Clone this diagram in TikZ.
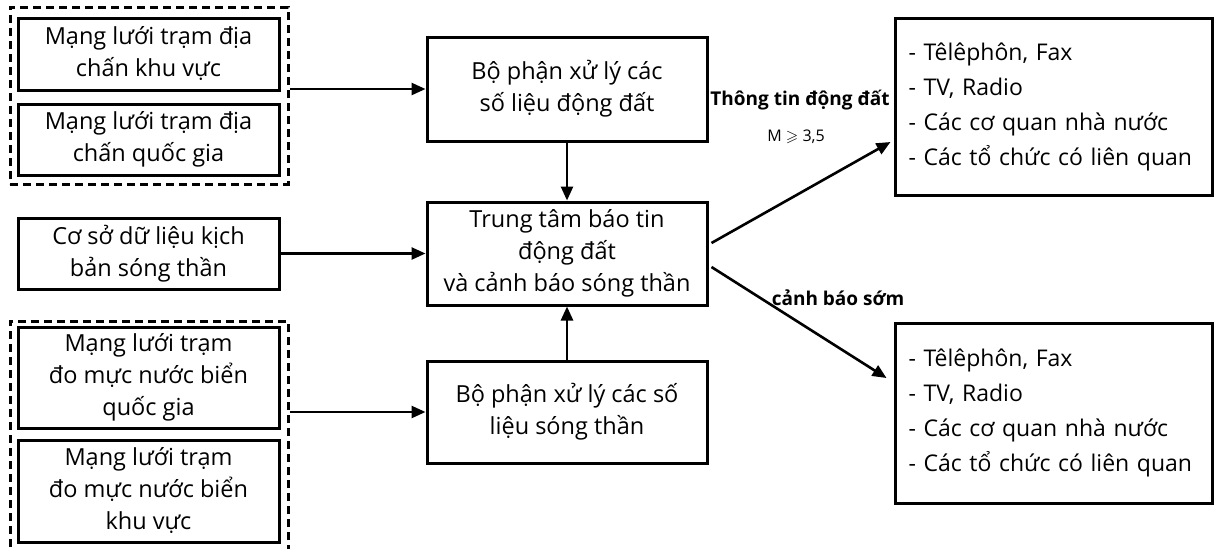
\documentclass[tikz,border=0pt]{standalone}
\usepackage{amssymb}
\usepackage{fontspec}
\setmainfont{Open Sans}
\usetikzlibrary{arrows.meta}
\begin{document}
\begin{tikzpicture}[x=1pt,y=-1pt,
  box/.style={draw,line width=3pt,rectangle,inner sep=0pt,align=center,
     font=\fontsize{23.5}{32}\selectfont},
  dbox/.style={draw,line width=3pt,dash pattern=on 8pt off 5pt,rectangle,inner sep=0pt},
  obox/.style={draw,line width=3pt,rectangle,inner ysep=0pt,inner xsep=13.5pt,
     text width=290pt,minimum width=317pt,align=left,
     font=\fontsize{23}{35}\selectfont},
  arr/.style={line width=2.6pt,-{Triangle[length=14pt,width=12pt]}},
  lbl/.style={font=\bfseries\fontsize{19}{21}\selectfont,inner sep=0pt},
  small/.style={font=\fontsize{16}{18}\selectfont,inner sep=0pt}
]
\useasboundingbox (0,0) rectangle (1216,549);
\fill[white] (0,0) rectangle (1216,549);

% left column
\node[dbox,minimum width=278pt,minimum height=177pt] (dtop) at (149,95.5) {};
\node[box,minimum width=261pt,minimum height=72pt] (n1) at (148.5,54) {Mạng lưới trạm địa\\chấn khu vực};
\node[box,minimum width=261pt,minimum height=71pt] (n2) at (148.5,139.5) {Mạng lưới trạm địa\\chấn quốc gia};
\node[box,minimum width=261pt,minimum height=71pt] (db) at (148.5,253.5) {Cơ sở dữ liệu kịch\\bản sóng thần};
\node[dbox,minimum width=278pt,minimum height=240pt] (dbot) at (149,441) {};
\node[box,minimum width=261pt,minimum height=101pt] (n3) at (148.5,377.5) {Mạng lưới trạm\\đo mực nước biển\\quốc gia};
\node[box,minimum width=261pt,minimum height=102pt] (n4) at (148.5,491) {Mạng lưới trạm\\đo mực nước biển\\khu vực};

% middle column
\node[box,minimum width=280pt,minimum height=104pt] (p1) at (567,89) {Bộ phận xử lý các\\số liệu động đất};
\node[box,minimum width=280pt,minimum height=103pt] (ttc) at (567,253.5) {Trung tâm báo tin\\động đất\\và cảnh báo sóng thần};
\node[box,minimum width=280pt,minimum height=102pt] (p2) at (567,412) {Bộ phận xử lý các số\\liệu sóng thần};

% right column
\node[obox,minimum height=177pt] (o1) at (1053.5,106.5) {- Têlêphôn, Fax\\- TV, Radio\\- Các cơ quan nhà nước\\- Các tổ chức có liên quan};
\node[obox,minimum height=180pt] (o2) at (1053.5,413) {- Têlêphôn, Fax\\- TV, Radio\\- Các cơ quan nhà nước\\- Các tổ chức có liên quan};

% connectors
\draw[arr] (dtop.east |- p1) -- (p1.west);
\draw[arr] (db.east) -- (ttc.west);
\draw[arr] (dbot.east |- p2) -- (p2.west);
\draw[arr] (p1.south) -- (ttc.north);
\draw[arr] (p2.north) -- (ttc.south);
\draw[arr] ([shift={(3,-10.5)}]ttc.east) -- ([shift={(-3,35.5)}]o1.west);
\draw[arr] ([shift={(3,13.5)}]ttc.east) -- ([shift={(-7,-35)}]o2.west);

% labels
\node[lbl] (l1) at (800,100) {Thông tin động đất};
\node[small] (l2) at (796,137) {M $\geqslant$ 3,5};
\node[lbl] (l3) at (838,298) {cảnh báo sớm};
\end{tikzpicture}
\end{document}
